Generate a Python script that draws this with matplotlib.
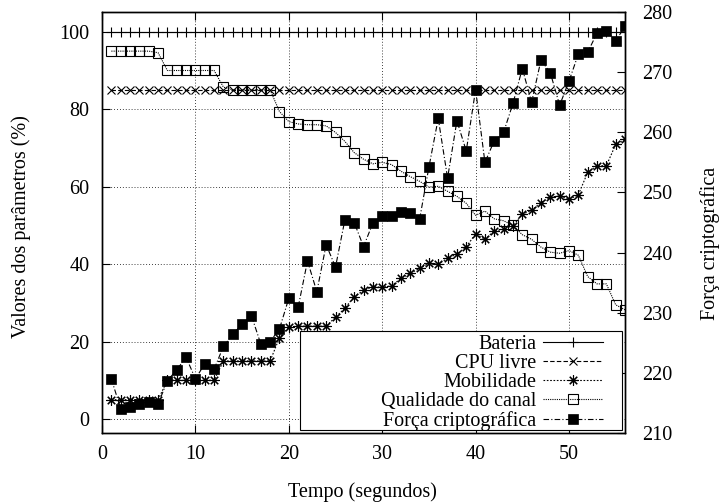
import matplotlib
matplotlib.use('Agg')
import matplotlib.pyplot as plt
from matplotlib.patches import Rectangle
from matplotlib.lines import Line2D

tempo = list(range(1, 57))

bateria = [100] * 56
cpu_livre = [85] * 56
mobilidade = [5, 5, 5, 5, 5, 5, 10, 10, 10, 10, 10, 10, 15, 15, 15, 15, 15, 15,
              21, 23.7, 24, 24, 24, 24, 26.3, 28.6, 31.6, 33.2, 34.2, 34.0, 34.4,
              36.3, 37.6, 38.9, 40.2, 40.0, 41.5, 42.6, 44.5, 47.8, 46.4, 48.6,
              49.0, 49.9, 52.9, 53.9, 55.9, 57.3, 57.6, 56.7, 57.9, 63.7, 65.4,
              65.4, 70.9, 72.2]
qualidade = [95, 95, 95, 95, 95, 94.6, 90, 90, 90, 90, 90, 90, 85.7, 85, 85, 85,
             85, 85, 79.4, 76.8, 76.2, 76.0, 76.0, 75.7, 74.0, 71.7, 68.8, 67.1,
             65.9, 66.3, 65.7, 64.0, 62.6, 61.4, 59.9, 60.1, 58.8, 57.5, 55.7,
             52.6, 53.7, 51.7, 51.2, 50.0, 47.6, 46.4, 44.4, 43.1, 42.8, 43.5,
             42.3, 36.8, 34.9, 34.9, 29.5, 28.2]
forca = [219.0, 214.0, 214.4, 214.8, 215.2, 214.8, 218.7, 220.5, 222.6, 219.0,
         221.5, 220.6, 224.4, 226.4, 228.1, 229.5, 224.8, 225.2, 227.3, 232.4,
         230.9, 238.6, 233.5, 241.3, 237.6, 245.4, 245.0, 241.0, 244.9, 246.0,
         246.1, 246.7, 246.5, 245.5, 254.2, 262.3, 252.4, 261.9, 256.9, 267.1,
         255.0, 258.6, 260.0, 264.8, 270.6, 265.0, 272.0, 269.9, 264.5, 268.5,
         273.0, 273.3, 276.5, 276.9, 275.2, 277.6]

labels = ['Bateria', 'CPU livre', 'Mobilidade', 'Qualidade do canal',
          u'Força criptográfica']

plt.rcParams['font.family'] = ['Liberation Serif', 'DejaVu Serif']
plt.rcParams['font.size'] = 14.5

fig = plt.figure(figsize=(7.19, 5.03), dpi=100)
ax = fig.add_axes([0.1419, 0.1392, 0.8693 - 0.1419, 0.9761 - 0.1392])
ax2 = ax.twinx()

lw = 0.8
ast = (8, 2, 0)  # gnuplot style asterisk

# one style per series: (linestyle, marker, size, face, edge width)
styles = [
    ('-', '+', 7.5, 'k', 0.8),
    ((0, (4, 2)), 'x', 5.5, 'k', 0.8),
    ((0, (1.5, 1.5)), ast, 7.5, 'k', 0.8),
    ((0, (1, 1)), 's', 7, 'none', 0.8),
    ((0, (5, 2, 1, 2)), 's', 7.5, 'k', 0.5),
]

series = [bateria, cpu_livre, mobilidade, qualidade]
for vals, (ls, mk, ms, fc, mew) in zip(series, styles[:4]):
    ax.plot(tempo, vals, color='k', lw=lw, ls=ls, marker=mk, ms=ms, mfc=fc, mew=mew)
ls, mk, ms, fc, mew = styles[4]
ax2.plot(tempo, forca, color='k', lw=lw, ls=ls, marker=mk, ms=ms, mfc=fc, mew=mew)

ax.set_xlim(0, 56)
ax.set_ylim(-3.6, 105.1)
ax2.set_ylim(210, 280)

ax.set_xticks(range(0, 60, 10))
ax.set_yticks(range(0, 120, 20))
ax2.set_yticks(range(210, 290, 10))

ax.tick_params(axis='both', direction='in', length=6, width=0.8, top=True, right=False)
ax.tick_params(axis='y', pad=9)
ax.tick_params(axis='x', pad=9)
ax2.tick_params(axis='y', direction='in', length=6, width=0.8, pad=12)

ax.grid(True, color='k', lw=0.6, ls=(0, (1, 2.5)))

for a in (ax, ax2):
    for s in a.spines.values():
        s.set_linewidth(1.0)

ax.set_xlabel('Tempo (segundos)')
ax.set_ylabel(u'Valores dos parâmetros (%)')
ax2.set_ylabel(u'Força criptográfica')
ax.xaxis.set_label_coords(0.497, -0.14)
ax.xaxis.label.set_va('center')
ax.yaxis.set_label_coords(-0.155, 0.49)
ax.yaxis.label.set_va('center')
ax2.yaxis.set_label_coords(1.162, 0.45)
ax2.yaxis.label.set_va('center')

# legend box like gnuplot "key box opaque"
ax2.add_patch(Rectangle((0.378, 0.007), 0.994 - 0.378, 0.235, transform=ax2.transAxes,
                        facecolor='white', edgecolor='k', lw=0.8, zorder=5))
handles = [Line2D([], [], color='k', lw=lw, ls=ls, marker=mk, ms=ms, mfc=fc, mew=mew)
           for ls, mk, ms, fc, mew in styles]
leg = ax2.legend(handles, labels, loc='lower right', bbox_to_anchor=(0.958, 0.005),
                 frameon=False, markerfirst=False, handlelength=3.0, handletextpad=0.3,
                 labelspacing=0.0, borderpad=0.0, borderaxespad=0.0)
leg.set_zorder(6)

fig.savefig('out.png', dpi=100)
plt.close(fig)
